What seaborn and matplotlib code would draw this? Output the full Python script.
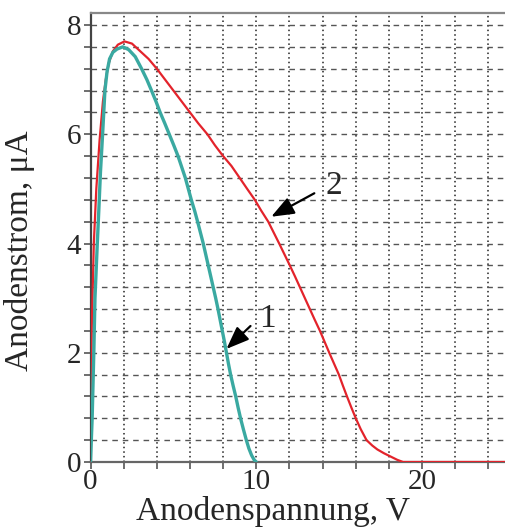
import matplotlib
matplotlib.use("Agg")
import matplotlib.pyplot as plt
import seaborn as sns
from matplotlib.ticker import MultipleLocator, FuncFormatter

# ---- data ----
# curve 1 (teal)
v1 = [0.0, 0.05, 0.1, 0.15, 0.2, 0.27, 0.34, 0.41, 0.5, 0.6, 0.73, 0.87, 1.0, 1.15,
      1.35, 1.6, 1.95, 2.3, 2.7, 3.08, 3.4, 3.68, 3.95, 4.2, 4.48, 4.75, 5.02, 5.28,
      5.5, 5.72, 5.9, 6.08, 6.28, 6.46, 6.63, 6.8, 6.95, 7.1, 7.25, 7.4, 7.55, 7.69,
      7.82, 7.95, 8.08, 8.2, 8.32, 8.45, 8.6, 8.76, 8.9, 9.05, 9.22, 9.4, 9.55, 9.72,
      9.87, 10.0]
i1 = [0.0, 0.4, 0.8, 1.4, 2.0, 3.0, 3.5, 4.0, 4.6, 5.3, 6.0, 6.8, 7.15, 7.38,
      7.5, 7.56, 7.6, 7.55, 7.42, 7.2, 7.0, 6.8, 6.6, 6.4, 6.2, 6.0, 5.8, 5.6,
      5.4, 5.2, 5.0, 4.8, 4.6, 4.4, 4.2, 4.0, 3.8, 3.6, 3.4, 3.2, 3.0, 2.8,
      2.6, 2.4, 2.2, 2.0, 1.8, 1.6, 1.4, 1.2, 1.0, 0.8, 0.6, 0.4, 0.25, 0.12,
      0.04, 0.0]

# curve 2 (red)
v2 = [0.0, 0.02, 0.08, 0.2, 0.35, 0.55, 0.75, 0.92, 1.1, 1.35, 1.65, 2.05, 2.5, 3.0,
      3.5, 4.0, 4.5, 5.0, 5.5, 6.0, 6.5, 7.05, 7.5, 8.0, 8.5, 9.0, 9.45, 9.91, 10.3,
      10.72, 11.05, 11.38, 11.7, 12.02, 12.33, 12.63, 12.93, 13.23, 13.53, 13.84,
      14.12, 14.4, 14.69, 14.98, 15.22, 15.47, 15.73, 16.0, 16.3, 16.65, 17.0, 17.3,
      17.7, 18.1, 18.5, 18.85, 25.0]
i2 = [0.0, 1.0, 2.5, 4.0, 5.0, 5.9, 6.6, 7.0, 7.3, 7.52, 7.64, 7.7, 7.66, 7.52,
      7.38, 7.2, 7.0, 6.8, 6.6, 6.4, 6.2, 6.0, 5.8, 5.6, 5.42, 5.2, 5.0, 4.8, 4.6,
      4.4, 4.2, 4.0, 3.8, 3.6, 3.4, 3.2, 3.0, 2.8, 2.6, 2.4,
      2.2, 2.0, 1.8, 1.6, 1.4, 1.2, 1.0, 0.8, 0.6, 0.4, 0.3, 0.23,
      0.16, 0.1, 0.04, 0.0, 0.0]

x_ticklabels = [0, 10, 20]
y_ticklabels = [0, 2, 4, 6, 8]
curve_labels = ["1", "2"]
arrow_tips = [(8.2, 2.07), (10.9, 4.49)]
arrow_tails = [(9.65, 2.49), (13.5, 4.92)]
label_pos = [(10.65, 2.62), (14.7, 5.05)]

sns.set_theme(style="white")
plt.rcParams["font.family"] = ["Liberation Serif", "DejaVu Serif"]

fig = plt.figure(figsize=(5.05, 5.27), dpi=100)
ax = fig.add_axes([90.5 / 505, 1 - 462 / 527, 1 - 90.5 / 505, (462 - 13) / 527])

sns.lineplot(x=v2, y=i2, ax=ax, color="#e3232b", linewidth=1.6, sort=False, estimator=None, zorder=3)
sns.lineplot(x=v1, y=i1, ax=ax, color="#3aa9a1", linewidth=2.4, sort=False, estimator=None, zorder=4)

ax.set_xlim(0, 25)
ax.set_ylim(0, 8.22)

ax.xaxis.set_major_locator(MultipleLocator(2))
ax.yaxis.set_major_locator(MultipleLocator(0.4))

def fx(v, p):
    r = round(v)
    return str(r) if abs(v - r) < 1e-6 and r in x_ticklabels else ""

def fy(v, p):
    r = round(v)
    return str(r) if abs(v - r) < 1e-6 and r in y_ticklabels else ""

ax.xaxis.set_major_formatter(FuncFormatter(fx))
ax.yaxis.set_major_formatter(FuncFormatter(fy))

ax.xaxis.grid(True, linestyle=(0, (1, 2)), color="#222222", linewidth=1.1)
ax.yaxis.grid(True, linestyle=(0, (4, 3.5)), color="#555555", linewidth=1.0)
ax.set_axisbelow(True)

ax.tick_params(axis="both", which="major", direction="out", length=5, width=1.2,
               color="#555555", labelsize=21, pad=1.5, left=True, bottom=True)
ax.tick_params(axis="x", pad=0)

for s in ["left", "bottom", "top"]:
    ax.spines[s].set_visible(True)
    ax.spines[s].set_linewidth(1.6)
ax.spines["left"].set_color("#444444")
ax.spines["bottom"].set_color("#666666")
ax.spines["top"].set_color("#888888")
ax.spines["right"].set_visible(False)

ax.set_xlabel("Anodenspannung, V", fontsize=24, labelpad=0)
ax.set_ylabel("Anodenstrom, μA", fontsize=24, labelpad=0)
ax.xaxis.set_label_coords(0.44, -0.075)
ax.yaxis.set_label_coords(-0.134, 0.47)

for lab, tip, tail, pos in zip(curve_labels, arrow_tips, arrow_tails, label_pos):
    ax.annotate("", xy=tip, xytext=tail,
                arrowprops=dict(arrowstyle="-|>,head_length=1.15,head_width=0.45",
                                color="black", lw=1.6, shrinkA=0, shrinkB=0), zorder=6)
    ax.text(pos[0], pos[1], lab, fontsize=24, ha="center", va="center", zorder=6)

fig.savefig("out.png", dpi=100)
